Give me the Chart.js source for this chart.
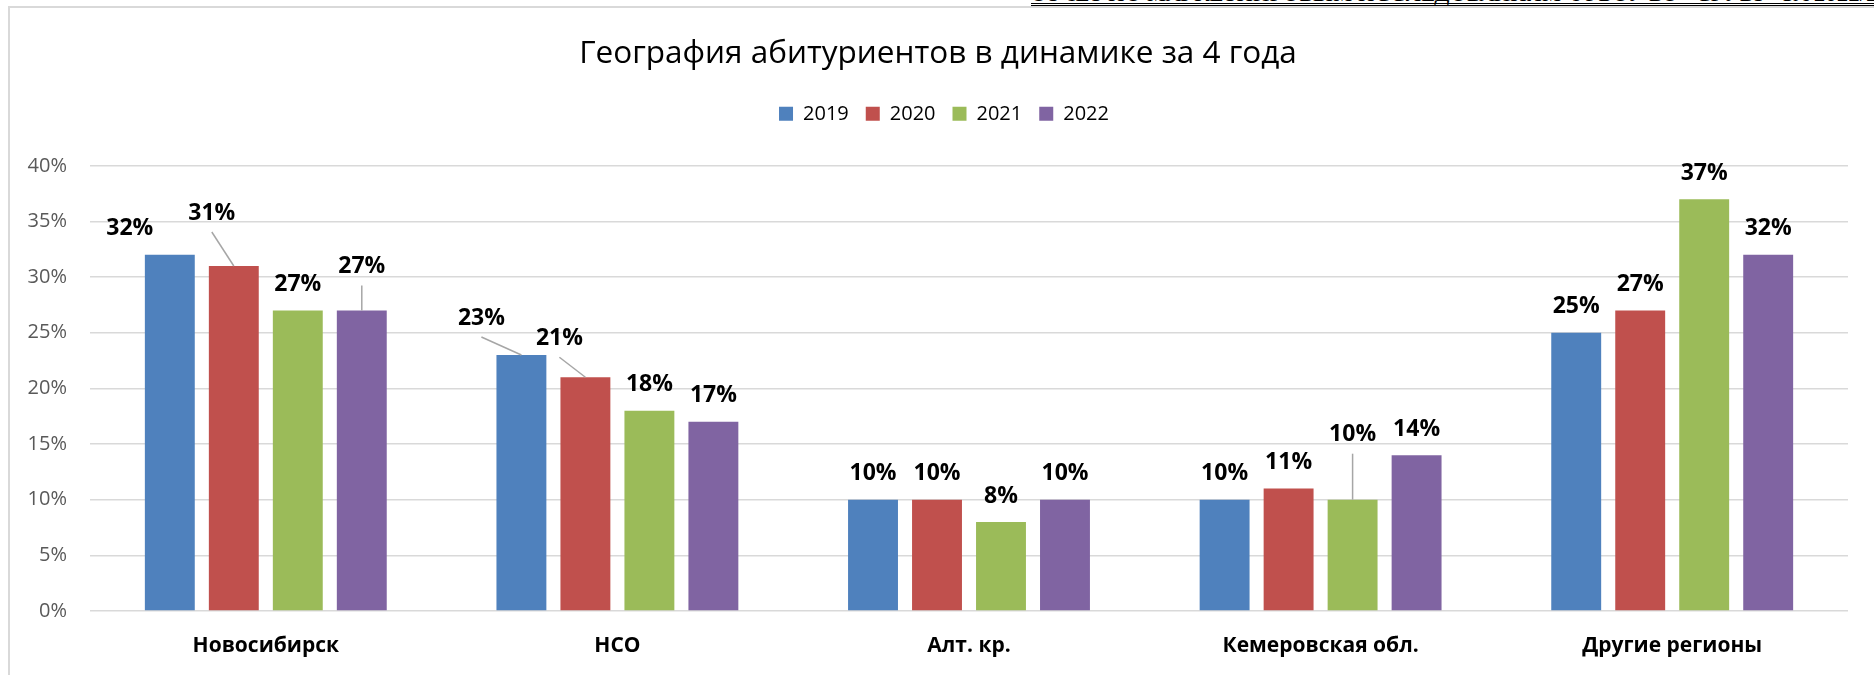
<!DOCTYPE html>
<html>
<head>
<meta charset="utf-8">
<script src="https://cdn.jsdelivr.net/npm/chart.js@4.4.1/dist/chart.umd.min.js"></script>
<style>
    html, body { margin: 0; padding: 0; background: #fff; overflow: hidden; }
    #page { position: relative; width: 1874px; height: 675px; }
    #header {
        position: absolute; left: 1031px; top: -15px; white-space: nowrap;
        font-family: "Liberation Serif", serif; font-style: italic; font-size: 23px;
        line-height: 18px; color: #000; border-bottom: 3px double #000; padding-right: 60px;
    }
    #frame {
        position: absolute; left: 8px; top: 6px; width: 1900px; height: 700px;
        border-left: 2px solid #d9d9d9; border-top: 2px solid #d9d9d9;
    }
    canvas { position: absolute; left: 0; top: 0; }
</style>
</head>
<body>
<div id="page">
    <div id="header">ОТЧЕТ ПО МАРКЕТИНГОВЫМ ИССЛЕДОВАНИЯМ ФГБОУ ВО «СГУВТ» ЗА 2022/23 У.Г.</div>
    <div id="frame"></div>
    <canvas id="chart" width="1874" height="675"></canvas>
</div>
<script>
const categories = ["Новосибирск", "НСО", "Алт. кр.", "Кемеровская обл.", "Другие регионы"];
const years = ["2019", "2020", "2021", "2022"];
const values2019 = [32, 23, 10, 10, 25];
const values2020 = [31, 21, 10, 11, 27];
const values2021 = [27, 18, 8, 10, 37];
const values2022 = [27, 17, 10, 14, 32];
const yTicks = [0, 5, 10, 15, 20, 25, 30, 35, 40];

const colors = ["#4f81bd", "#c0504d", "#9bbb59", "#8064a2"];
const FONT = "'Open Sans', 'Noto Sans', sans-serif";

// labels that Excel moved by hand: [dx, dy, leader line]
const labelMoves = {
    "0-0": [-40, 0, false],
    "1-0": [-22, -27, true],
    "3-0": [0, -18, true],
    "0-1": [-40, -11, true],
    "1-1": [-26, -13, true],
    "2-3": [0, -39, true]
};

const valueLabels = {
    id: "valueLabels",
    afterDatasetsDraw(chart) {
        const ctx = chart.ctx;
        ctx.save();
        ctx.font = "bold 23px " + FONT;
        ctx.textAlign = "center";
        ctx.textBaseline = "middle";
        chart.data.datasets.forEach((ds, di) => {
            chart.getDatasetMeta(di).data.forEach((bar, i) => {
                const move = labelMoves[di + "-" + i] || [0, 0, false];
                const lx = bar.x + move[0];
                const ly = bar.y - 26 + move[1];
                if (move[2]) {
                    ctx.strokeStyle = "#a6a6a6";
                    ctx.lineWidth = 1.5;
                    ctx.beginPath();
                    ctx.moveTo(lx, ly + 19);
                    ctx.lineTo(bar.x, bar.y);
                    ctx.stroke();
                }
                ctx.fillStyle = "#000";
                ctx.fillText(ds.data[i] + "%", lx, ly);
            });
        });
        ctx.restore();
    }
};

// legend box gets extra room underneath, and title/legend sit a bit right of the plot centre
const headerBoxes = {
    id: "headerBoxes",
    beforeLayout(chart) {
        const lg = chart.legend;
        if (lg && !lg._gapPatched) {
            const fit = lg.fit;
            lg.fit = function () {
                fit.call(this);
                this.height += 32;
            };
            lg._gapPatched = true;
        }
    },
    afterLayout(chart) {
        if (chart.titleBlock) {
            chart.titleBlock.left += 14;
            chart.titleBlock.right += 14;
        }
        if (chart.legend) {
            chart.legend.left += 20;
            chart.legend.right += 20;
        }
    }
};

const seriesValues = [values2019, values2020, values2021, values2022];

new Chart(document.getElementById("chart"), {
    type: "bar",
    data: {
        labels: categories,
        datasets: years.map((y, k) => ({
            label: y,
            data: seriesValues[k],
            backgroundColor: colors[k],
            borderWidth: 0,
            barPercentage: 0.78,
            categoryPercentage: 0.728
        }))
    },
    options: {
        responsive: false,
        animation: false,
        events: [],
        layout: { padding: { left: 0, right: 26, top: 0, bottom: 0 } },
        plugins: {
            title: {
                display: true,
                text: "География абитуриентов в динамике за 4 года",
                color: "#000",
                font: { family: FONT, size: 31.5, weight: "normal" },
                padding: { top: 35, bottom: 14 }
            },
            legend: {
                position: "top",
                labels: {
                    color: "#000",
                    font: { family: FONT, size: 20 },
                    boxWidth: 14,
                    boxHeight: 14,
                    padding: 17
                }
            },
            tooltip: { enabled: false }
        },
        scales: {
            x: {
                grid: { display: false, drawTicks: false },
                border: { display: false },
                ticks: {
                    color: "#000",
                    font: { family: FONT, size: 21, weight: "bold" },
                    padding: 22
                },
                afterFit(scale) { scale.height = 64; }
            },
            y: {
                min: 0,
                max: 40,
                afterBuildTicks(scale) { scale.ticks = yTicks.map(v => ({ value: v })); },
                grid: { color: "#d9d9d9", lineWidth: 1.5, drawTicks: false },
                border: { display: false },
                ticks: {
                    color: "#595959",
                    font: { family: FONT, size: 20 },
                    padding: 23,
                    callback: v => v + "%"
                },
                afterFit(scale) { scale.width = 90; }
            }
        }
    },
    plugins: [valueLabels, headerBoxes]
});
</script>
</body>
</html>
